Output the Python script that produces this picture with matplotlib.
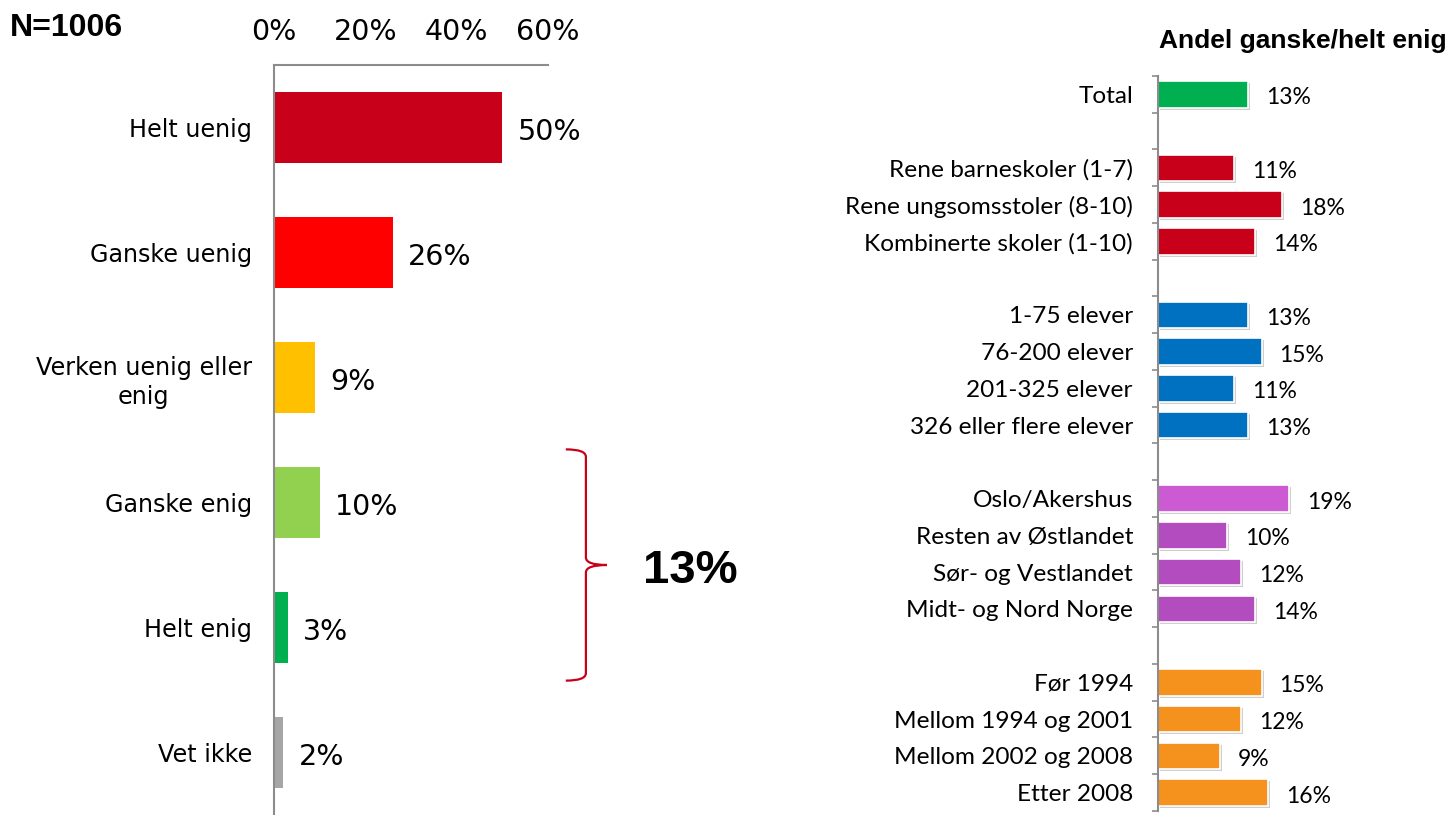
import numpy as np
import matplotlib
matplotlib.use("Agg")
import matplotlib.pyplot as plt
from matplotlib.path import Path
from matplotlib.patches import PathPatch
import matplotlib.patheffects as pe

# ---------------- data ----------------
sample_label = "N=1006"
left_categories = ["Helt uenig", "Ganske uenig", "Verken uenig eller\nenig",
                   "Ganske enig", "Helt enig", "Vet ikke"]
left_values = [50, 26, 9, 10, 3, 2]
left_ticks = [0, 20, 40, 60]
agree_idx = [3, 4]  # Ganske enig + Helt enig

right_title = "Andel ganske/helt enig"
right_groups = [
    ["Total"],
    ["Rene barneskoler (1-7)", "Rene ungsomsstoler (8-10)", "Kombinerte skoler (1-10)"],
    ["1-75 elever", "76-200 elever", "201-325 elever", "326 eller flere elever"],
    ["Oslo/Akershus", "Resten av Østlandet", "Sør- og Vestlandet", "Midt- og Nord Norge"],
    ["Før 1994", "Mellom 1994 og 2001", "Mellom 2002 og 2008", "Etter 2008"],
]
right_values = [
    [13],
    [11, 18, 14],
    [13, 15, 11, 13],
    [19, 10, 12, 14],
    [15, 12, 9, 16],
]

# ---------------- styles ----------------
left_colors = ["#C8001A", "#FF0000", "#FFC000", "#92D050", "#00B050", "#A6A6A6"]
group_colors = [["#00B050"],
                ["#C8001A"] * 3,
                ["#0070C0"] * 4,
                ["#CC5AD3", "#B24CBF", "#B24CBF", "#B24CBF"],
                ["#F5921E"] * 4]
spine_color = "#8C8C8C"
W, H = 1450, 815

fig = plt.figure(figsize=(W / 100, H / 100), dpi=100)

# ---------------- left panel ----------------
ax1 = fig.add_axes([274 / W, 0, 274 / W, 750 / H])
ypos = np.arange(len(left_categories))
ax1.barh(ypos, left_values, height=0.575, color=left_colors)
ax1.set_xlim(0, 60)
ax1.set_ylim(len(left_categories) - 0.5, -0.5)
ax1.xaxis.tick_top()
ax1.set_xticks(left_ticks)
ax1.set_xticklabels([f"{t}%" for t in left_ticks], fontsize=20.5, family="DejaVu Sans")
ax1.tick_params(axis="x", length=0, pad=14)
ax1.set_yticks(ypos)
ax1.set_yticklabels(left_categories, fontsize=17.2, family="DejaVu Sans",
                    multialignment="center", linespacing=1.25)
ax1.tick_params(axis="y", length=0, pad=16)
for lbl in ax1.get_yticklabels():
    lbl.set_y(lbl.get_position()[1])
for s in ["right", "bottom"]:
    ax1.spines[s].set_visible(False)
for s in ["left", "top"]:
    ax1.spines[s].set_color(spine_color)
    ax1.spines[s].set_linewidth(1.5)
for i, v in enumerate(left_values):
    ax1.annotate(f"{v}%", xy=(v, i), xytext=(11, -3), textcoords="offset points",
                 va="center", ha="left", fontsize=20.5, family="DejaVu Sans")

# bracket for agree categories
yc = np.mean([ypos[i] for i in agree_idx])
half = 0.925
top, bot = yc - half, yc + half
x0, x1, x2 = 63.9, 68.3, 72.9
r = 0.06
verts = [(x0, top), (x1, top), (x1, top + r), (x1, yc - r), (x1, yc), (x2, yc),
         (x1, yc), (x1, yc + r), (x1, bot - r), (x1, bot), (x0, bot)]
codes = [Path.MOVETO, Path.CURVE3, Path.CURVE3, Path.LINETO, Path.CURVE3, Path.CURVE3,
         Path.CURVE3, Path.CURVE3, Path.LINETO, Path.CURVE3, Path.CURVE3]
ax1.add_patch(PathPatch(Path(verts, codes), fill=False, edgecolor="#C8001A",
                        lw=1.6, clip_on=False))
agree_sum = sum(left_values[i] for i in agree_idx)
ax1.text(91.1, yc + 0.05, f"{agree_sum}%", ha="center", va="center", fontsize=34,
         fontweight="bold", family="Liberation Sans", clip_on=False)

fig.text(10 / W, 1 - 28 / H, sample_label, ha="left", va="center", fontsize=23,
         fontweight="bold", family="Liberation Sans")

# ---------------- right panel ----------------
labels, vals, cols, pos = [], [], [], []
p = 0
for g, (names, vs, cs) in enumerate(zip(right_groups, right_values, group_colors)):
    if g > 0:
        p += 1
    for n, v, c in zip(names, vs, cs):
        labels.append(n); vals.append(v); cols.append(c); pos.append(p)
        p += 1
nslots = p

ax2 = fig.add_axes([1158 / W, 4 / H, 292 / W, 735 / H])
bars = ax2.barh(pos, vals, height=0.72, color=cols, edgecolor="white", linewidth=1.2)
for b in bars:
    b.set_path_effects([pe.SimplePatchShadow(offset=(1.5, -1.5), shadow_rgbFace="#777777",
                                             alpha=0.35), pe.Normal()])
ax2.set_xlim(0, 292 / 6.9)
ax2.set_ylim(nslots - 0.5, -0.5)
ax2.set_yticks(pos)
ax2.set_yticklabels(labels, fontsize=17.6, family="Lato")
ax2.set_yticks(np.arange(-0.5, nslots, 1), minor=True)
ax2.tick_params(axis="y", which="major", length=0, pad=18)
ax2.tick_params(axis="y", which="minor", length=4.5, width=1.2, color=spine_color)
ax2.xaxis.set_visible(False)
for s in ["right", "top", "bottom"]:
    ax2.spines[s].set_visible(False)
ax2.spines["left"].set_color(spine_color)
ax2.spines["left"].set_linewidth(1.5)
for y, v in zip(pos, vals):
    ax2.annotate(f"{v}%", xy=(v, y), xytext=(13, -2.5), textcoords="offset points",
                 va="center", ha="left", fontsize=16.5, family="Lato")

fig.text(1303 / W, 1 - 41 / H, right_title, ha="center", va="center", fontsize=19,
         fontweight="bold", family="Liberation Sans")

fig.savefig("out.png", dpi=100)
